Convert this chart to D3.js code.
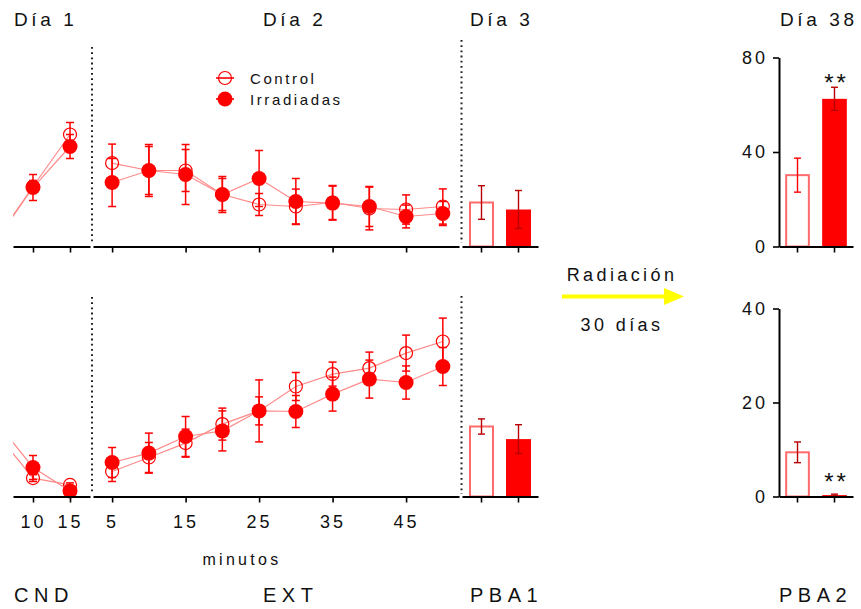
<!DOCTYPE html>
<html>
<head>
<meta charset="utf-8">
<script src="https://cdn.jsdelivr.net/npm/d3@7"></script>
<style>
  body { margin: 0; background: #fff; }
  text { font-family: "Liberation Sans", Arial, sans-serif; fill: #111; }
</style>
</head>
<body>
<div id="my_chart"></div>
<script>
// ---- data ----
var groups = ["Control", "Irradiadas"];
var minutesCnd = [5, 10, 15];
var minutesExt = [5, 10, 15, 20, 25, 30, 35, 40, 45, 50];
var cndTicks = [10, 15];
var extTicks = [5, 15, 25, 35, 45];

// fila superior
var cndTopControl = [3, 30, 56];
var cndTopControlErr = [0, 3, 6];
var cndTopIrr = [3, 29.5, 50];
var cndTopIrrErr = [0, 6.5, 6];
var extTopControl = [41.7, 38, 38, 26, 21, 20, 22, 19, 18.5, 20];
var extTopControlErr = [9.5, 12, 10.5, 8, 5.5, 8.7, 8.5, 10.7, 7.3, 8.8];
var extTopIrr = [32, 38, 36, 26, 34, 22.5, 21.7, 20, 15, 16.5];
var extTopIrrErr = [12, 13, 15, 9, 14, 11.5, 8.5, 10, 5.7, 6];
var pba1Top = [22, 18.5];
var pba1TopErr = [8.4, 9.5];
var pba2Top = [30.2, 62.5];
var pba2TopErr = [7.2, 4.9];
var pba2TopTicks = [0, 40, 80];

// fila inferior
var cndBotControl = [32, 9.2, 5.8];
var cndBotControlErr = [0, 1.7, 1];
var cndBotIrr = [37.6, 14.5, 2.8];
var cndBotIrrErr = [0, 6, 1];
var extBotControl = [12.5, 19.5, 26.7, 36.2, 42.8, 55, 61.2, 64.2, 71.7, 77.5];
var extBotControlErr = [5, 7.5, 7, 8, 7, 7, 6, 8, 9, 11.7];
var extBotIrr = [17, 21.7, 30, 32.8, 42.8, 42.5, 51.2, 58.7, 57, 65];
var extBotIrrErr = [7.5, 10, 10, 10, 15.5, 8, 8.5, 9.5, 8.3, 9.5];
var pba1Bot = [35, 28.7];
var pba1BotErr = [3.8, 7.2];
var pba2Bot = [9.4, 0.3];
var pba2BotErr = [2.2, 0.2];
var pba2BotTicks = [0, 20, 40];

// ---- drawing ----
var width = 861, height = 609;
var red = "#ff0000", lineRed = "#ff8a8a", darkRed = "#b80000", barEdge = "#ff6b6b";

var svg = d3.select("#my_chart").append("svg")
    .attr("width", width)
    .attr("height", height);

svg.append("defs").append("clipPath").attr("id", "cndClip")
    .append("rect").attr("x", 13).attr("y", 0).attr("width", 77).attr("height", height);

var xCnd = d3.scaleLinear().domain([7.3, 17.7]).range([13, 90]);
var xExt = d3.scaleLinear().domain([2.4, 52.2]).range([93, 459]);
var xPba1 = d3.scaleBand().domain(groups).range([462, 538]).paddingInner(0.324).paddingOuter(0.189);
var xPba2 = d3.scaleBand().domain(groups).range([779, 853]).paddingInner(0.333).paddingOuter(0.167);

var rows = [
    {
        y: d3.scaleLinear().domain([0, 100]).range([246.5, 46.5]),
        y2: d3.scaleLinear().domain([0, 80]).range([246.5, 57.5]),
        y2ticks: pba2TopTicks,
        cnd: [cndTopControl, cndTopControlErr, cndTopIrr, cndTopIrrErr],
        ext: [extTopControl, extTopControlErr, extTopIrr, extTopIrrErr],
        pba1: [pba1Top, pba1TopErr],
        pba2: [pba2Top, pba2TopErr],
        pba2ErrColors: [red, darkRed],
        labels: false,
        dot1: [47, 242], dot2: [40, 243],
        starY: 91
    },
    {
        y: d3.scaleLinear().domain([0, 100]).range([496.5, 296.5]),
        y2: d3.scaleLinear().domain([0, 40]).range([496.5, 308.5]),
        y2ticks: pba2BotTicks,
        cnd: [cndBotControl, cndBotControlErr, cndBotIrr, cndBotIrrErr],
        ext: [extBotControl, extBotControlErr, extBotIrr, extBotIrrErr],
        pba1: [pba1Bot, pba1BotErr],
        pba2: [pba2Bot, pba2BotErr],
        pba2ErrColors: [darkRed, darkRed],
        labels: true,
        dot1: [297, 494], dot2: [296, 494],
        starY: 490
    }
];

function drawSeries(g, x, y, minutes, vals, errs, filled) {
    var pts = minutes.map(function(m, i) { return {m: m, v: vals[i], e: errs[i]}; });
    g.append("path")
        .datum(pts)
        .attr("fill", "none")
        .attr("stroke", lineRed)
        .attr("stroke-width", 1.2)
        .attr("d", d3.line().x(function(d) { return x(d.m); }).y(function(d) { return y(d.v); }));

    var eb = g.append("g").selectAll("g")
        .data(pts.filter(function(d) { return d.e > 0; }))
        .enter().append("g")
        .attr("stroke", red)
        .attr("stroke-width", 1.5);
    eb.append("line")
        .attr("x1", function(d) { return x(d.m); })
        .attr("x2", function(d) { return x(d.m); })
        .attr("y1", function(d) { return y(d.v - d.e); })
        .attr("y2", function(d) { return y(d.v + d.e); });
    [1, -1].forEach(function(s) {
        eb.append("line")
            .attr("x1", function(d) { return x(d.m) - 4; })
            .attr("x2", function(d) { return x(d.m) + 4; })
            .attr("y1", function(d) { return y(d.v + s * d.e); })
            .attr("y2", function(d) { return y(d.v + s * d.e); });
    });

    g.append("g").selectAll("circle")
        .data(pts)
        .enter().append("circle")
        .attr("cx", function(d) { return x(d.m); })
        .attr("cy", function(d) { return y(d.v); })
        .attr("r", filled ? 7.5 : 6.5)
        .attr("fill", filled ? red : "none")
        .attr("stroke", red)
        .attr("stroke-width", filled ? 0 : 1.2);
}

function drawBars(g, x, y, vals, errs, errColors) {
    var data = groups.map(function(k, i) { return {k: k, v: vals[i], e: errs[i], i: i}; });
    g.append("g").selectAll("rect")
        .data(data)
        .enter().append("rect")
        .attr("x", function(d) { return x(d.k) + (d.i === 0 ? 1 : 0); })
        .attr("width", function(d) { return x.bandwidth() - (d.i === 0 ? 2 : 0); })
        .attr("y", function(d) { return y(d.v); })
        .attr("height", function(d) { return y(0) - y(d.v); })
        .attr("fill", function(d) { return d.i === 0 ? "#fff" : red; })
        .attr("stroke", function(d) { return d.i === 0 ? barEdge : "none"; })
        .attr("stroke-width", 2);
    var eb = g.append("g").selectAll("g")
        .data(data)
        .enter().append("g")
        .attr("stroke", function(d) { return errColors[d.i]; })
        .attr("stroke-width", 1.4);
    var cx = function(d) { return x(d.k) + x.bandwidth() / 2; };
    eb.append("line")
        .attr("x1", cx).attr("x2", cx)
        .attr("y1", function(d) { return y(d.v - d.e); })
        .attr("y2", function(d) { return y(d.v + d.e); });
    [1, -1].forEach(function(s) {
        eb.append("line")
            .attr("x1", function(d) { return cx(d) - 3.5; })
            .attr("x2", function(d) { return cx(d) + 3.5; })
            .attr("y1", function(d) { return y(d.v + s * d.e); })
            .attr("y2", function(d) { return y(d.v + s * d.e); });
    });
}

function styleAxis(a, labels) {
    a.select(".domain").attr("stroke", "#000").attr("stroke-width", 2);
    a.selectAll(".tick line").attr("stroke", "#000").attr("stroke-width", 1.6);
    a.selectAll(".tick text")
        .attr("font-family", "Liberation Sans, Arial, sans-serif")
        .attr("font-size", labels ? 18 : 0)
        .attr("letter-spacing", 3)
        .attr("fill", "#111");
}

rows.forEach(function(row) {
    var base = row.y(0);

    // dotted separators
    [[92, row.dot1], [461.5, row.dot2]].forEach(function(p) {
        svg.append("line")
            .attr("x1", p[0]).attr("x2", p[0])
            .attr("y1", p[1][0]).attr("y2", p[1][1])
            .attr("stroke", "#222")
            .attr("stroke-width", 2)
            .attr("stroke-dasharray", "1.8,3.4");
    });

    // CND panel
    var gc = svg.append("g").attr("clip-path", "url(#cndClip)");
    drawSeries(gc, xCnd, row.y, minutesCnd, row.cnd[0], row.cnd[1], false);
    drawSeries(gc, xCnd, row.y, minutesCnd, row.cnd[2], row.cnd[3], true);

    // EXT panel
    var ge = svg.append("g");
    drawSeries(ge, xExt, row.y, minutesExt, row.ext[0], row.ext[1], false);
    drawSeries(ge, xExt, row.y, minutesExt, row.ext[2], row.ext[3], true);

    // PBA1 bars
    drawBars(svg.append("g"), xPba1, row.y, row.pba1[0], row.pba1[1], [darkRed, darkRed]);

    // PBA2 bars
    drawBars(svg.append("g"), xPba2, row.y2, row.pba2[0], row.pba2[1], row.pba2ErrColors);

    // axes
    var fmt = row.labels ? d3.format("d") : "";
    styleAxis(svg.append("g").attr("transform", "translate(0," + base + ")")
        .call(d3.axisBottom(xCnd).tickValues(cndTicks).tickSize(6).tickSizeOuter(0).tickPadding(13).tickFormat(fmt)), row.labels);
    styleAxis(svg.append("g").attr("transform", "translate(0," + base + ")")
        .call(d3.axisBottom(xExt).tickValues(extTicks).tickSize(6).tickSizeOuter(0).tickPadding(13).tickFormat(fmt)), row.labels);
    styleAxis(svg.append("g").attr("transform", "translate(0," + base + ")")
        .call(d3.axisBottom(xPba1).tickSize(6).tickSizeOuter(0).tickFormat("")), false);
    styleAxis(svg.append("g").attr("transform", "translate(0," + base + ")")
        .call(d3.axisBottom(xPba2).tickSize(6).tickSizeOuter(0).tickFormat("")), false);
    var ya = svg.append("g").attr("transform", "translate(779,0)")
        .call(d3.axisLeft(row.y2).tickValues(row.y2ticks).tickSize(6).tickSizeOuter(0).tickPadding(5));
    styleAxis(ya, true);

    // significance
    svg.append("text")
        .attr("x", xPba2("Irradiadas") + xPba2.bandwidth() / 2 + 2)
        .attr("y", row.starY)
        .attr("text-anchor", "middle")
        .attr("font-size", 24)
        .attr("letter-spacing", 3)
        .text("**");
});

// legend
var legend = svg.append("g").attr("transform", "translate(225,78)");
groups.forEach(function(name, i) {
    var lg = legend.append("g").attr("transform", "translate(0," + (i * 21) + ")");
    lg.append("line").attr("x1", -9).attr("x2", 9).attr("stroke", red).attr("stroke-width", 1.6);
    lg.append("circle")
        .attr("r", i === 0 ? 6.5 : 7.5)
        .attr("fill", i === 0 ? "none" : red)
        .attr("stroke", red)
        .attr("stroke-width", i === 0 ? 1.2 : 0);
    lg.append("text")
        .attr("x", 25).attr("y", 5.5)
        .attr("font-size", 15)
        .attr("letter-spacing", 2.6)
        .text(name);
});

// headers and footers
var headers = [["Día 1", 14], ["Día 2", 263], ["Día 3", 470], ["Día 38", 780]];
svg.selectAll(".hdr").data(headers).enter().append("text")
    .attr("x", function(d) { return d[1]; })
    .attr("y", 26)
    .attr("font-size", 19)
    .attr("letter-spacing", 3.6)
    .text(function(d) { return d[0]; });

var footers = [["CND", 14], ["EXT", 263], ["PBA1", 470], ["PBA2", 779]];
svg.selectAll(".ftr").data(footers).enter().append("text")
    .attr("x", function(d) { return d[1]; })
    .attr("y", 602)
    .attr("font-size", 20)
    .attr("letter-spacing", 5.5)
    .text(function(d) { return d[0]; });

svg.append("text")
    .attr("x", 242).attr("y", 565)
    .attr("text-anchor", "middle")
    .attr("font-size", 16)
    .attr("letter-spacing", 3.3)
    .text("minutos");

// radiation arrow
svg.append("line")
    .attr("x1", 562).attr("x2", 666)
    .attr("y1", 296.5).attr("y2", 296.5)
    .attr("stroke", "#ffff00")
    .attr("stroke-width", 4);
svg.append("path")
    .attr("d", d3.line()([[664, 288], [684, 296.5], [664, 305]]))
    .attr("fill", "#ffff00");
svg.append("text")
    .attr("x", 622).attr("y", 281)
    .attr("text-anchor", "middle")
    .attr("font-size", 18)
    .attr("letter-spacing", 3.4)
    .text("Radiación");
svg.append("text")
    .attr("x", 622).attr("y", 331)
    .attr("text-anchor", "middle")
    .attr("font-size", 18)
    .attr("letter-spacing", 3.4)
    .text("30 días");
</script>
</body>
</html>
